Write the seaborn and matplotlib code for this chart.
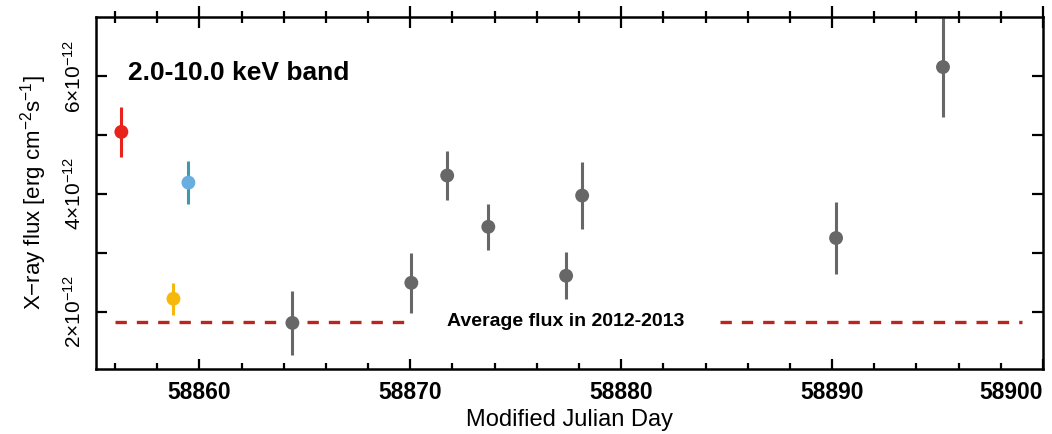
import numpy as np
import pandas as pd
import seaborn as sns
import matplotlib.pyplot as plt
from matplotlib.ticker import MultipleLocator, FixedLocator, FuncFormatter

# light curve, flux in units of 1e-12 erg cm^-2 s^-1
mjd = [58856.3, 58859.48, 58858.77, 58864.41, 58870.05, 58871.75, 58873.7,
       58877.39, 58878.15, 58890.19, 58895.26]
flux = [5.05, 4.19, 2.22, 1.81, 2.49, 4.31, 3.44, 2.61, 3.97, 3.25, 6.15]
flux_err = [0.43, 0.37, 0.27, 0.54, 0.51, 0.41, 0.39, 0.40, 0.57, 0.61, 0.84]
group = ["a", "b", "c", "d", "d", "d", "d", "d", "d", "d", "d"]

marker_colors = {"a": "#e8231b", "b": "#6aaee0", "c": "#f6b80a", "d": "#676767"}
bar_colors = {"a": "#e8231b", "b": "#3f9aa6", "c": "#f6b80a", "d": "#676767"}

avg_flux = 1.83
avg_segments = [(58856.0, 58869.85), (58884.7, 58899.0)]

plt.rcParams["font.family"] = ["Liberation Sans", "DejaVu Sans"]
plt.rcParams["mathtext.fontset"] = "custom"
plt.rcParams["mathtext.rm"] = "Liberation Sans"
plt.rcParams["mathtext.it"] = "Liberation Sans:italic"
plt.rcParams["mathtext.bf"] = "Liberation Sans:bold"

df = pd.DataFrame({"mjd": mjd, "flux": flux, "err": flux_err, "group": group})

fig = plt.figure(figsize=(10.52, 4.34), dpi=100)
ax = fig.add_axes([0.0913, 0.150, 0.9001, 0.811])

for x0, x1 in avg_segments:
    ax.plot([x0, x1], [avg_flux, avg_flux], ls=(0, (3.4, 3.0)), lw=2.4,
            color="#b8261e", zorder=1)

for _, r in df.iterrows():
    ax.errorbar(r.mjd, r.flux, yerr=r.err, fmt="none",
                ecolor=bar_colors[r.group], elinewidth=2.2, capsize=0, zorder=2)

sns.scatterplot(data=df, x="mjd", y="flux", hue="group", palette=marker_colors,
                s=100, edgecolor="none", legend=False, ax=ax, zorder=3)

ax.set_xlim(58855.1, 58900.0)
ax.set_ylim(1.03, 7.0)

ax.xaxis.set_major_locator(FixedLocator([58860, 58870, 58880, 58890, 58900]))
ax.xaxis.set_minor_locator(MultipleLocator(2))
ax.yaxis.set_major_locator(FixedLocator([2, 4, 6]))
ax.yaxis.set_minor_locator(FixedLocator([3, 5]))
ax.yaxis.set_major_formatter(FuncFormatter(lambda v, p: r"$%d{\times}10^{-12}$" % v))

for s in ax.spines.values():
    s.set_linewidth(1.8)

ax.tick_params(axis="x", which="major", direction="in", length=7, width=1.6,
               labelsize=16.5, pad=9, top=True)
ax.tick_params(axis="x", which="minor", direction="in", length=4.5, width=1.6,
               top=True)
ax.tick_params(axis="y", which="both", direction="in", length=8, width=1.6,
               labelsize=15, pad=8, right=True)
xlabels = ax.get_xticklabels()
for lab in xlabels:
    lab.set_fontweight("bold")
xlabels[-1].set_ha("right")
for lab in ax.get_yticklabels():
    lab.set_rotation(90)
    lab.set_va("center")

# top ticks cross the spine
for t in ax.xaxis.get_major_ticks():
    t.tick2line.set_marker("|")
    t.tick2line.set_markersize(16)
for t in ax.xaxis.get_minor_ticks():
    t.tick2line.set_marker("|")
    t.tick2line.set_markersize(9)

ax.set_xlabel("Modified Julian Day", fontsize=17, labelpad=3)
ax.set_ylabel(r"X$-$ray flux [erg cm$^{-2}$s$^{-1}$]", fontsize=16, labelpad=10)

ax.text(0.034, 0.84, "2.0-10.0 keV band", transform=ax.transAxes,
        fontsize=19, fontweight="bold", va="center", ha="left")
ax.text(58877.35, avg_flux, "Average flux in 2012-2013", fontsize=14,
        fontweight="bold", ha="center", va="center")

fig.savefig("out.png", dpi=100)
